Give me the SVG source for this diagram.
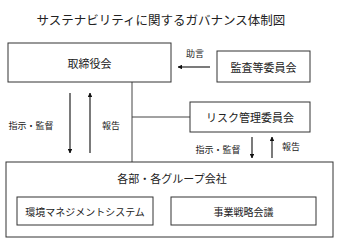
<svg xmlns="http://www.w3.org/2000/svg" width="337" height="239" viewBox="0 0 337 239">
<style>
text{font-family:"Noto Sans CJK JP","Noto Sans",sans-serif;fill:#222;text-anchor:middle;dominant-baseline:central}
.box{fill:#fff;stroke:#333;stroke-width:1}
.t{font-size:11px}
.s{font-size:9px}
.ttl{font-size:12.5px}
.ln{stroke:#444;stroke-width:1;fill:none}
.ar{stroke:#222;stroke-width:1.2;fill:none}
</style>
<defs>
<marker id="ah" viewBox="0 0 10 10" refX="9" refY="5" markerWidth="4" markerHeight="4" orient="auto">
<path d="M0,0 L10,5 L0,10 z" fill="#111"/>
</marker>
</defs>
<rect width="337" height="239" fill="#fff"/>
<text class="ttl" x="161" y="19">サステナビリティに関するガバナンス体制図</text>
<g id="connectors">
<line class="ln" x1="132" y1="82" x2="132" y2="162"/>
<line class="ln" x1="132" y1="117" x2="190" y2="117"/>
<line class="ar" x1="210" y1="67" x2="178" y2="67" marker-end="url(#ah)"/>
<line class="ar" x1="70" y1="93" x2="70" y2="153" marker-end="url(#ah)"/>
<line class="ar" x1="90" y1="153" x2="90" y2="93" marker-end="url(#ah)"/>
<line class="ar" x1="252" y1="137" x2="252" y2="158" marker-end="url(#ah)"/>
<line class="ar" x1="272" y1="158" x2="272" y2="137" marker-end="url(#ah)"/>
<text class="s" x="195" y="53">助言</text>
<text class="s" x="31" y="125">指示・監督</text>
<text class="s" x="111" y="125">報告</text>
<text class="s" x="218" y="149">指示・監督</text>
<text class="s" x="291" y="146">報告</text>
</g>
<g id="board">
<rect class="box" x="8" y="43" width="163" height="39"/>
<text class="t" x="89.5" y="62.5">取締役会</text>
</g>
<g id="audit">
<rect class="box" x="217" y="51" width="93" height="31"/>
<text class="t" x="263.5" y="66.5">監査等委員会</text>
</g>
<g id="risk">
<rect class="box" x="190" y="102" width="120" height="30"/>
<text class="t" x="250" y="117">リスク管理委員会</text>
</g>
<g id="divisions">
<rect class="box" x="6" y="162" width="327" height="75"/>
<text class="t" x="172" y="178">各部・各グループ会社</text>
</g>
<g id="ems">
<rect class="box" x="17" y="197" width="136" height="28"/>
<text class="s" x="85" y="211" style="font-size:10px">環境マネジメントシステム</text>
</g>
<g id="strategy">
<rect class="box" x="171" y="197" width="145" height="28"/>
<text class="s" x="243.5" y="211" style="font-size:10px">事業戦略会議</text>
</g>
</svg>
